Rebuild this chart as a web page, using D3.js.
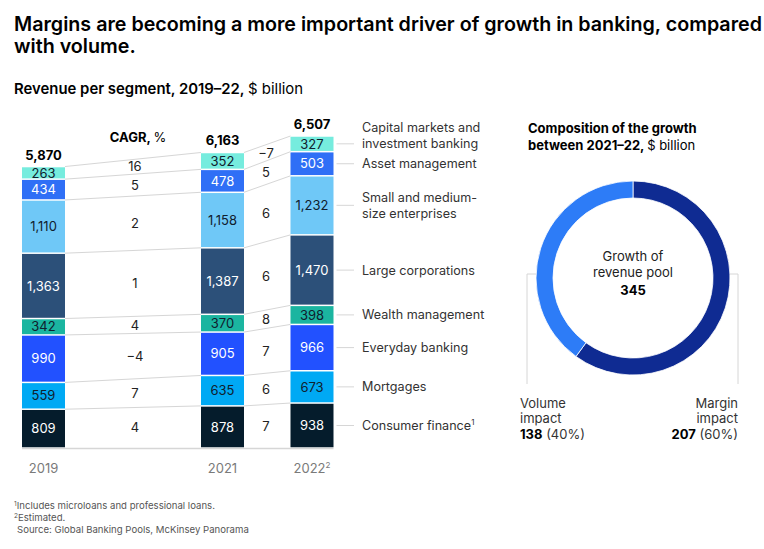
<!DOCTYPE html>
<html>
<head>
<meta charset="utf-8">
<script src="https://cdn.jsdelivr.net/npm/d3@7"></script>
<style>
  html, body { margin: 0; padding: 0; background: #fff; }
  svg { display: block; font-family: Inter, "Noto Sans", sans-serif; }
</style>
</head>
<body>
<svg id="chart" width="764" height="549"></svg>
<script>
// ---- data ----
const segments = ["Consumer finance", "Mortgages", "Everyday banking", "Wealth management",
  "Large corporations", "Small and medium-size enterprises", "Asset management",
  "Capital markets and investment banking"];
const segmentLabels = [["Consumer finance¹"], ["Mortgages"], ["Everyday banking"], ["Wealth management"],
  ["Large corporations"], ["Small and medium-", "size enterprises"], ["Asset management"],
  ["Capital markets and", "investment banking"]];
const years = [2019, 2021, 2022];
const yearLabels = ["2019", "2021", "2022"];
const values2019 = [809, 559, 990, 342, 1363, 1110, 434, 263];
const values2021 = [878, 635, 905, 370, 1387, 1158, 478, 352];
const values2022 = [938, 673, 966, 398, 1470, 1232, 503, 327];
const cagr2019to2021 = ["4", "7", "\u22124", "4", "1", "2", "5", "16"];
const cagr2021to2022 = ["7", "6", "7", "8", "6", "6", "5", "\u22127"];
const donutParts = ["Margin impact", "Volume impact"];
const donutValues = [207, 138];
const donutShares = ["60%", "40%"];
const donutTotal = 345;

// ---- styles ----
const colors = ["#051c2c", "#00a9f4", "#2251ff", "#1bb5a0", "#2c5079", "#6fc8f7", "#2f6ff6", "#76ecde"];
const textColors = ["#fff", "#10202e", "#fff", "#10202e", "#fff", "#10202e", "#fff", "#10202e"];
const donutColors = ["#0f2b92", "#2d7cf7"];

const svg = d3.select("#chart");
const allValues = [values2019, values2021, values2022];

// scales
const x = d3.scaleLinear().domain([2019, 2022]).range([43.5, 312]);
const bw = 43;
const y = d3.scaleLinear().domain([0, d3.sum(values2022)]).range([448, 136]);

// stacks
const stacks = allValues.map(vals => {
  let c = 0;
  return vals.map(v => { const s = { y0: c, y1: c + v, v }; c += v; return s; });
});

// title
const title = svg.append("text").attr("x", 14).attr("font-size", 19.7).attr("font-weight", 600).attr("fill", "#000");
title.append("tspan").attr("x", 14).attr("y", 31).text("Margins are becoming a more important driver of growth in banking, compared");
title.append("tspan").attr("x", 14).attr("y", 53).text("with volume.");

const sub = svg.append("text").attr("x", 14).attr("y", 94).attr("font-size", 14.9).attr("fill", "#000");
sub.append("tspan").attr("font-weight", 600).text("Revenue per segment, 2019\u201322, ");
sub.append("tspan").text("$ billion");

const g = svg.append("g");

// connector lines between bars
for (let i = 0; i < years.length - 1; i++) {
  const a = stacks[i], b = stacks[i + 1];
  a.forEach((s, k) => {
    g.append("line")
      .attr("x1", x(years[i]) + bw / 2).attr("y1", y(s.y1))
      .attr("x2", x(years[i + 1]) - bw / 2).attr("y2", y(b[k].y1))
      .attr("stroke", "#d6d6d6").attr("stroke-width", 1);
  });
}

// baseline
g.append("line").attr("x1", x(2019) - bw / 2).attr("x2", x(2022) + bw / 2)
  .attr("y1", y(0) + 0.5).attr("y2", y(0) + 0.5).attr("stroke", "#d6d6d6").attr("stroke-width", 1.5);

// bars
years.forEach((yr, i) => {
  const bar = g.append("g");
  bar.selectAll("rect").data(stacks[i]).join("rect")
    .attr("x", x(yr) - bw / 2).attr("width", bw)
    .attr("y", d => y(d.y1) + 0.75)
    .attr("height", d => Math.max(0, y(d.y0) - y(d.y1) - 1.5))
    .attr("fill", (d, k) => colors[k]);
  bar.selectAll("text.val").data(stacks[i]).join("text")
    .attr("class", "val")
    .attr("x", x(yr)).attr("y", d => (y(d.y0) + y(d.y1)) / 2)
    .attr("dy", "0.36em").attr("text-anchor", "middle").attr("font-size", 13)
    .attr("fill", (d, k) => textColors[k])
    .text(d => d3.format(",")(d.v));
  // totals
  g.append("text").attr("x", x(yr)).attr("y", y(d3.sum(allValues[i])) - 7)
    .attr("text-anchor", "middle").attr("font-size", 13).attr("font-weight", 700).attr("fill", "#000")
    .text(d3.format(",")(d3.sum(allValues[i])));
  // year labels
  const yl = g.append("text").attr("x", x(yr)).attr("y", 473).attr("text-anchor", "middle")
    .attr("font-size", 13).attr("fill", "#7a7a7a").text(yearLabels[i]);
  if (yr === 2022) yl.append("tspan").attr("dy", -5).attr("font-size", 8).text("2");
});

// CAGR labels
const cagrSets = [cagr2019to2021, cagr2021to2022];
const cagrX = [135, 266];
cagrSets.forEach((set, i) => {
  const xa = x(years[i]) + bw / 2, xb = x(years[i + 1]) - bw / 2;
  const t = (cagrX[i] - xa) / (xb - xa);
  set.forEach((lab, k) => {
    const sa = stacks[i][k], sb = stacks[i + 1][k];
    const top = y(sa.y1) + t * (y(sb.y1) - y(sa.y1));
    const bot = y(sa.y0) + t * (y(sb.y0) - y(sa.y0));
    g.append("text").attr("x", cagrX[i]).attr("y", (top + bot) / 2).attr("dy", "0.36em")
      .attr("text-anchor", "middle").attr("font-size", 13).attr("fill", "#222").text(lab);
  });
});
const cagrHead = g.append("text").attr("x", 138).attr("y", 142).attr("text-anchor", "middle")
  .attr("font-size", 13).attr("fill", "#000");
cagrHead.append("tspan").attr("font-weight", 700).text("CAGR, ");
cagrHead.append("tspan").text("%");

// right labels
const last = stacks[2];
last.forEach((s, k) => {
  const mid = (y(s.y0) + y(s.y1)) / 2;
  g.append("line").attr("x1", x(2022) + bw / 2 + 3).attr("x2", 354)
    .attr("y1", mid).attr("y2", mid).attr("stroke", "#d6d6d6");
  const lines = segmentLabels[k];
  const lh = 16;
  let startY;
  if (k === last.length - 1) startY = mid - lh * (lines.length - 1);
  else startY = mid - lh * (lines.length - 1) / 2;
  const t = g.append("text").attr("font-size", 12.6).attr("fill", "#333");
  lines.forEach((ln, j) => {
    const ts = t.append("tspan").attr("x", 362).attr("y", startY + j * lh).attr("dy", "0.36em");
    if (ln.endsWith("¹")) {
      ts.text(ln.slice(0, -1));
      t.append("tspan").attr("dy", -5).attr("font-size", 8).text("1");
    } else ts.text(ln);
  });
});

// donut
const cx = 633, cy = 278, R = 97, r = 80;
const dt = svg.append("text").attr("font-size", 13).attr("fill", "#000");
dt.append("tspan").attr("x", 528).attr("y", 133).attr("font-weight", 700).text("Composition of the growth");
const dt2 = svg.append("text").attr("font-size", 13).attr("fill", "#000").attr("x", 528).attr("y", 150);
dt2.append("tspan").attr("font-weight", 700).text("between 2021\u201322, ");
dt2.append("tspan").text("$ billion");

const pie = d3.pie().sort(null).value(d => d)(donutValues);
const arc = d3.arc().innerRadius(r).outerRadius(R);
const dg = svg.append("g").attr("transform", `translate(${cx},${cy})`);
dg.selectAll("path").data(pie).join("path").attr("d", arc)
  .attr("fill", (d, i) => donutColors[i]).attr("stroke", "#fff").attr("stroke-width", 0.8);

const ct = svg.append("text").attr("text-anchor", "middle").attr("font-size", 13).attr("fill", "#222");
ct.append("tspan").attr("x", cx).attr("y", 261).text("Growth of");
ct.append("tspan").attr("x", cx).attr("y", 277).text("revenue pool");
ct.append("tspan").attr("x", cx).attr("y", 295).attr("font-weight", 700).attr("fill", "#000").text(donutTotal);

// brackets
svg.append("path").attr("d", `M${cx - R},274 H527 V384`).attr("fill", "none").attr("stroke", "#d6d6d6");
svg.append("path").attr("d", `M${cx + R},274 H738 V384`).attr("fill", "none").attr("stroke", "#d6d6d6");

// donut labels
const parts = [
  { anchor: "end", x: 738, name: donutParts[0], v: donutValues[0], s: donutShares[0] },
  { anchor: "start", x: 520, name: donutParts[1], v: donutValues[1], s: donutShares[1] }
];
parts.forEach(p => {
  const words = p.name.split(" ");
  const t = svg.append("text").attr("text-anchor", p.anchor).attr("font-size", 13).attr("fill", "#333");
  t.append("tspan").attr("x", p.x).attr("y", 408).text(words[0]);
  t.append("tspan").attr("x", p.x).attr("y", 423).text(words[1]);
  const l3 = t.append("tspan").attr("x", p.x).attr("y", 439);
  l3.append("tspan").attr("font-weight", 700).attr("fill", "#000").text(p.v);
  l3.append("tspan").text(` (${p.s})`);
});

// footnotes
const fn = svg.append("g").attr("font-size", 9.6).attr("fill", "#555");
const f1 = fn.append("text").attr("x", 14).attr("y", 509);
f1.append("tspan").attr("font-size", 6.5).attr("dy", -3).text("1");
f1.append("tspan").attr("dy", 3).text("Includes microloans and professional loans.");
const f2 = fn.append("text").attr("x", 14).attr("y", 521);
f2.append("tspan").attr("font-size", 6.5).attr("dy", -3).text("2");
f2.append("tspan").attr("dy", 3).text("Estimated.");
fn.append("text").attr("x", 17).attr("y", 533).text("Source: Global Banking Pools, McKinsey Panorama");
</script>
</body>
</html>
